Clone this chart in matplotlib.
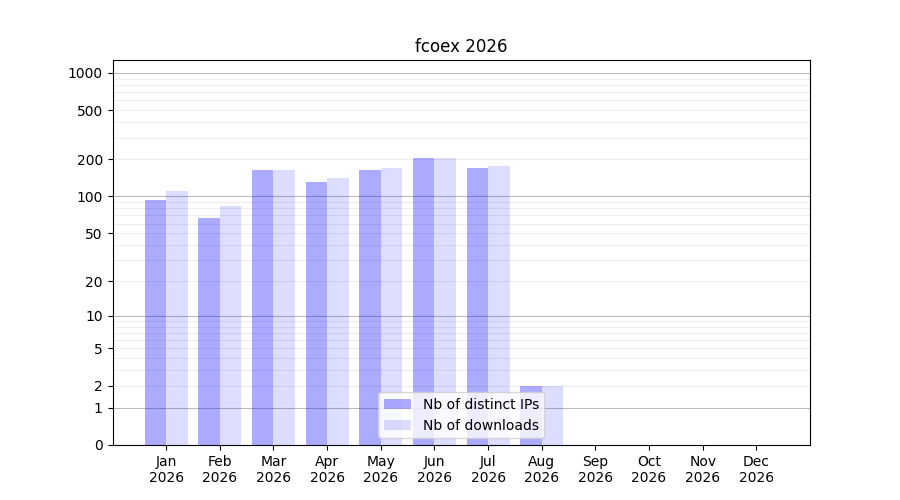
import numpy as np
import matplotlib
matplotlib.use("Agg")
import matplotlib.pyplot as plt

# ---------------------------
# Data
# ---------------------------
month_labels = ["Jan", "Feb", "Mar", "Apr", "May", "Jun",
                "Jul", "Aug", "Sep", "Oct", "Nov", "Dec"]
distinct_ips = [93, 67, 165, 130, 165, 205, 170, 2, 0, 0, 0, 0]
downloads = [110, 83, 165, 140, 170, 205, 178, 2, 0, 0, 0, 0]

yticks = [0, 1, 2, 5, 10, 20, 50, 100, 200, 500, 1000]
major_grid = [1, 10, 100, 1000]
minor_grid = [m * 10**e for e in range(3) for m in range(2, 10)]


def fwd(y):
    return np.log10(1 + np.clip(y, 0, None))


def inv(y):
    return 10**y - 1


x = np.arange(len(month_labels))
fig, ax = plt.subplots(figsize=(9, 5), dpi=100)

bar_w = 0.4
ax.bar(x, distinct_ips, width=-bar_w, align="edge", lw=0,
       color="blue", alpha=0.33, label="Nb of distinct IPs", zorder=2)
ax.bar(x, downloads, width=bar_w, align="edge", lw=0,
       color="blue", alpha=0.135, label="Nb of downloads", zorder=2)

ax.set_yscale("function", functions=(fwd, inv))
ax.set_ylim(0, 1270)
ax.set_yticks(yticks)
ax.set_yticklabels([str(t) for t in yticks])
ax.yaxis.set_minor_locator(matplotlib.ticker.NullLocator())

for v in minor_grid:
    ax.axhline(v, color="#eeeeee", lw=0.8, zorder=1)
for v in major_grid:
    ax.axhline(v, color="#bbbbbb", lw=0.8, zorder=1.1)

ax.set_xlim(-1, 12)
ax.set_xticks(x)
ax.set_xticklabels([f"{m}\n2026" for m in month_labels])

ax.set_title("fcoex 2026")
ax.legend(loc="lower center")

plt.savefig("out.png")
